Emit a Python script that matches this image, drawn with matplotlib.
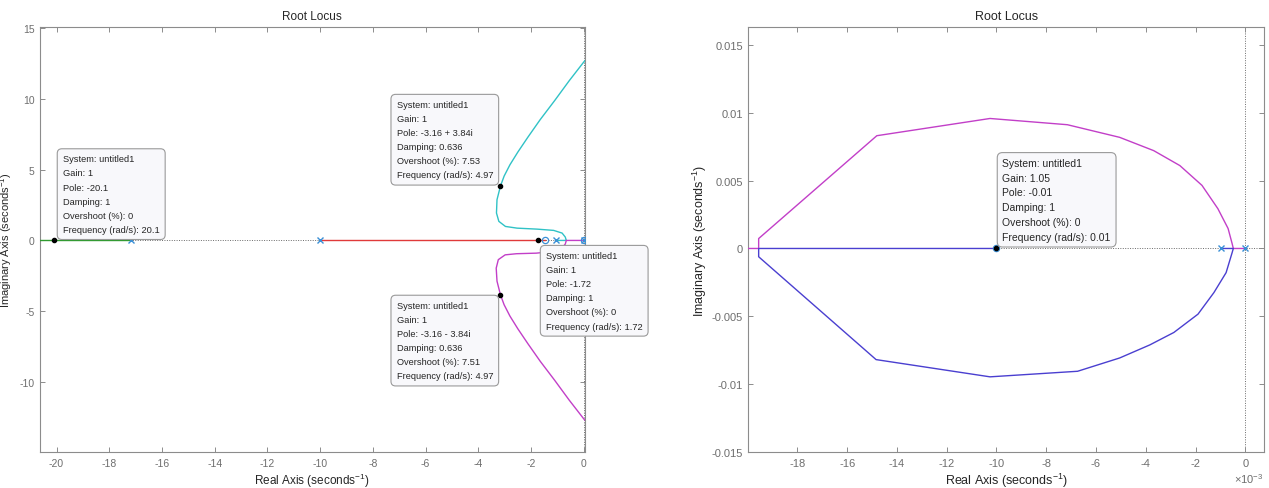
import matplotlib
matplotlib.use("Agg")

import numpy as np
import matplotlib.pyplot as plt
from matplotlib.ticker import FixedLocator, FixedFormatter

plt.rcParams["font.family"] = ["Liberation Sans", "DejaVu Sans"]
plt.rcParams["axes.unicode_minus"] = False
plt.rcParams["mathtext.default"] = "regular"

# ---- left locus (s-plane, full view) ----
poles_left = [-17.17, -10.0, -1.05, 0.0]
zeros_left = [-1.47, 0.0]

green_re = [-17.17, -21.0]
green_im = [0.0, 0.0]
red_re = [-10.0, -1.47]
red_im = [0.0, 0.0]
cyan_re = [-1.05, -0.66, -0.70, -0.82, -1.14, -1.77, -2.53, -2.97, -3.22, -3.31,
           -3.29, -3.16, -3.02, -2.80, -2.50, -2.12, -1.65, -1.10, -0.55, 0.0, 0.45]
cyan_im = [0.0, 0.0, 0.24, 0.52, 0.71, 0.80, 0.87, 0.99, 1.35, 1.94,
           2.88, 3.84, 4.55, 5.35, 6.25, 7.30, 8.55, 9.90, 11.30, 12.62, 13.6]
magenta_re = [0.0, -0.66, -0.70, -0.84, -1.18, -1.80, -2.55, -2.98, -3.24, -3.32,
              -3.29, -3.16, -3.02, -2.80, -2.50, -2.12, -1.65, -1.10, -0.55, 0.0, 0.45]
magenta_im = [0.0, 0.0, -0.26, -0.56, -0.78, -0.90, -0.94, -1.02, -1.36, -1.96,
              -2.88, -3.84, -4.55, -5.35, -6.25, -7.30, -8.55, -9.90, -11.30, -12.62, -13.6]

left_tips = [
    (-20.1, 0.0, "-20.1", "1", "0", "20.1", "left", "bottom", (6.4, 4.7)),
    (-3.16, 3.84, "-3.16 + 3.84i", "0.636", "7.53", "4.97", "right", "bottom", (-5.3, 4.8)),
    (-3.16, -3.84, "-3.16 - 3.84i", "0.636", "7.51", "4.97", "right", "top", (-5.3, -4.4)),
    (-1.72, 0.0, "-1.72", "1", "0", "1.72", "left", "top", (5.4, -7.6)),
]
left_xticks = [-20, -18, -16, -14, -12, -10, -8, -6, -4, -2, 0]
left_yticks = [-10, -5, 0, 5, 10, 15]

# ---- right locus (zoom near the origin) ----
poles_right = [-0.00098, 0.0]
zeros_right = [-0.010]
upper_re = [0.0, -0.00048, -0.00053, -0.00069, -0.00110, -0.00174, -0.00263, -0.00368,
            -0.00505, -0.00715, -0.01026, -0.01481, -0.01956, -0.01956, -0.0210]
upper_im = [0.0, 0.0, 0.00037, 0.00147, 0.00293, 0.00465, 0.00611, 0.00721,
            0.00819, 0.00912, 0.00958, 0.00831, 0.00073, 0.0, 0.0]
lower_re = [-0.00098, -0.00048, -0.00053, -0.00077, -0.00126, -0.00190, -0.00287, -0.00384,
            -0.00505, -0.00674, -0.01026, -0.01484, -0.01956, -0.01956, -0.010]
lower_im = [0.0, 0.0, -0.00032, -0.00178, -0.00325, -0.00484, -0.00619, -0.00711,
            -0.00807, -0.00905, -0.00946, -0.00819, -0.00061, 0.0, 0.0]
right_tip = (-0.010, 0.0, "-0.01", "1", "0", "0.01")
right_xticks = [-0.018, -0.016, -0.014, -0.012, -0.010, -0.008, -0.006, -0.004, -0.002, 0.0]
right_xlabels = ["-18", "-16", "-14", "-12", "-10", "-8", "-6", "-4", "-2", "0"]
right_yticks = [-0.015, -0.01, -0.005, 0.0, 0.005, 0.01, 0.015]
right_ylabels = ["-0.015", "-0.01", "-0.005", "0", "0.005", "0.01", "0.015"]

SPINE = "#8c8c8c"
TICKTXT = "#6e6e6e"
TXT = "#262626"
MARK = "#3a8fd6"


def style_axes(ax, fs):
    for s in ax.spines.values():
        s.set_color(SPINE)
        s.set_linewidth(0.8)
    ax.tick_params(direction="in", top=True, right=True, length=3.6, width=0.7,
                   color=SPINE, labelcolor=TICKTXT, labelsize=fs, pad=4)


def guides(ax):
    # dotted axes through the origin
    ax.axhline(0, color="#6a6a6a", lw=0.7, ls=(0, (1, 1.5)), zorder=1)
    ax.axvline(0, color="#6a6a6a", lw=0.7, ls=(0, (1, 1.5)), zorder=1)


def datatip(ax, x, y, text, ha, va, off, fs, ls, pad):
    ax.plot([x], [y], "o", color="black", ms=3, zorder=6)
    ax.annotate(text, xy=(x, y), xytext=off, textcoords="offset points",
                ha=ha, va=va, multialignment="left", fontsize=fs, color=TXT,
                linespacing=ls, annotation_clip=False, zorder=7,
                bbox=dict(boxstyle=f"round,pad={pad},rounding_size=0.5",
                          fc="#f8f8fb", ec="#9a9a9a", lw=0.8))


def tip_text(pole, gain, damp, over, freq):
    return (f"System: untitled1\nGain: {gain}\nPole: {pole}\nDamping: {damp}\n"
            f"Overshoot (%): {over}\nFrequency (rad/s): {freq}")


fig = plt.figure(figsize=(12.69, 4.89), dpi=100)

# left panel
ax1 = fig.add_axes([0.0315, 0.0736, 0.4291, 0.8691])
guides(ax1)
ax1.plot(green_re, green_im, color="#2f9a2f", lw=1.0, zorder=3)
ax1.plot(red_re, red_im, color="#e03a3a", lw=1.0, zorder=3)
ax1.plot(cyan_re, cyan_im, color="#30c2c6", lw=1.0, zorder=3)
ax1.plot(magenta_re, magenta_im, color="#c23fc8", lw=1.0, zorder=3)
ax1.plot(poles_left, np.zeros(len(poles_left)), "x", color=MARK, ms=4, mew=1.0, zorder=4)
ax1.plot(zeros_left, np.zeros(len(zeros_left)), "o", mfc="none", mec=MARK, ms=4.5, mew=0.9, zorder=4)
for x, y, pole, damp, over, freq, ha, va, off in left_tips:
    datatip(ax1, x, y, tip_text(pole, "1", damp, over, freq), ha, va, off, 6.7, 1.73, 0.6)
ax1.set_xlim(-20.63, 0.03)
ax1.set_ylim(-14.97, 15.1)
ax1.set_xticks(left_xticks)
ax1.set_yticks(left_yticks)
style_axes(ax1, 7.5)
ax1.set_title("Root Locus", fontsize=8.5, color=TXT, pad=6)
ax1.set_xlabel("Real Axis (seconds$^{-1}$)", fontsize=8.5, color=TXT, labelpad=2)
ax1.set_ylabel("Imaginary Axis (seconds$^{-1}$)", fontsize=8, color=TXT)
ax1.yaxis.set_label_coords(-0.047, 0.5)

# right panel
ax2 = fig.add_axes([0.5898, 0.0736, 0.4062, 0.8691])
guides(ax2)
ax2.plot(upper_re, upper_im, color="#c23fc8", lw=1.0, zorder=3)
ax2.plot(lower_re, lower_im, color="#4a3fd0", lw=1.0, zorder=3)
ax2.plot(poles_right, np.zeros(len(poles_right)), "x", color=MARK, ms=4, mew=1.0, zorder=4)
ax2.plot(zeros_right, np.zeros(len(zeros_right)), "o", mfc="none", mec=MARK, ms=4.5, mew=0.9, zorder=4)
rx, ry, rpole, rdamp, rover, rfreq = right_tip
datatip(ax2, rx, ry, tip_text(rpole, "1.05", rdamp, rover, rfreq), "left", "bottom",
        (4.3, 4.8), 7.5, 1.6, 0.5)
ax2.set_xlim(-0.01997, 0.00075)
ax2.set_ylim(-0.015, 0.01632)
ax2.xaxis.set_major_locator(FixedLocator(right_xticks))
ax2.xaxis.set_major_formatter(FixedFormatter(right_xlabels))
ax2.yaxis.set_major_locator(FixedLocator(right_yticks))
ax2.yaxis.set_major_formatter(FixedFormatter(right_ylabels))
style_axes(ax2, 8)
ax2.text(1.0, -0.045, "×10$^{-3}$", transform=ax2.transAxes, ha="right", va="top",
         fontsize=8, color=TICKTXT)
ax2.set_title("Root Locus", fontsize=9, color=TXT, pad=6)
ax2.set_xlabel("Real Axis (seconds$^{-1}$)", fontsize=9, color=TXT, labelpad=2)
ax2.set_ylabel("Imaginary Axis (seconds$^{-1}$)", fontsize=9, color=TXT, labelpad=2)

fig.savefig("out.png", dpi=100)
